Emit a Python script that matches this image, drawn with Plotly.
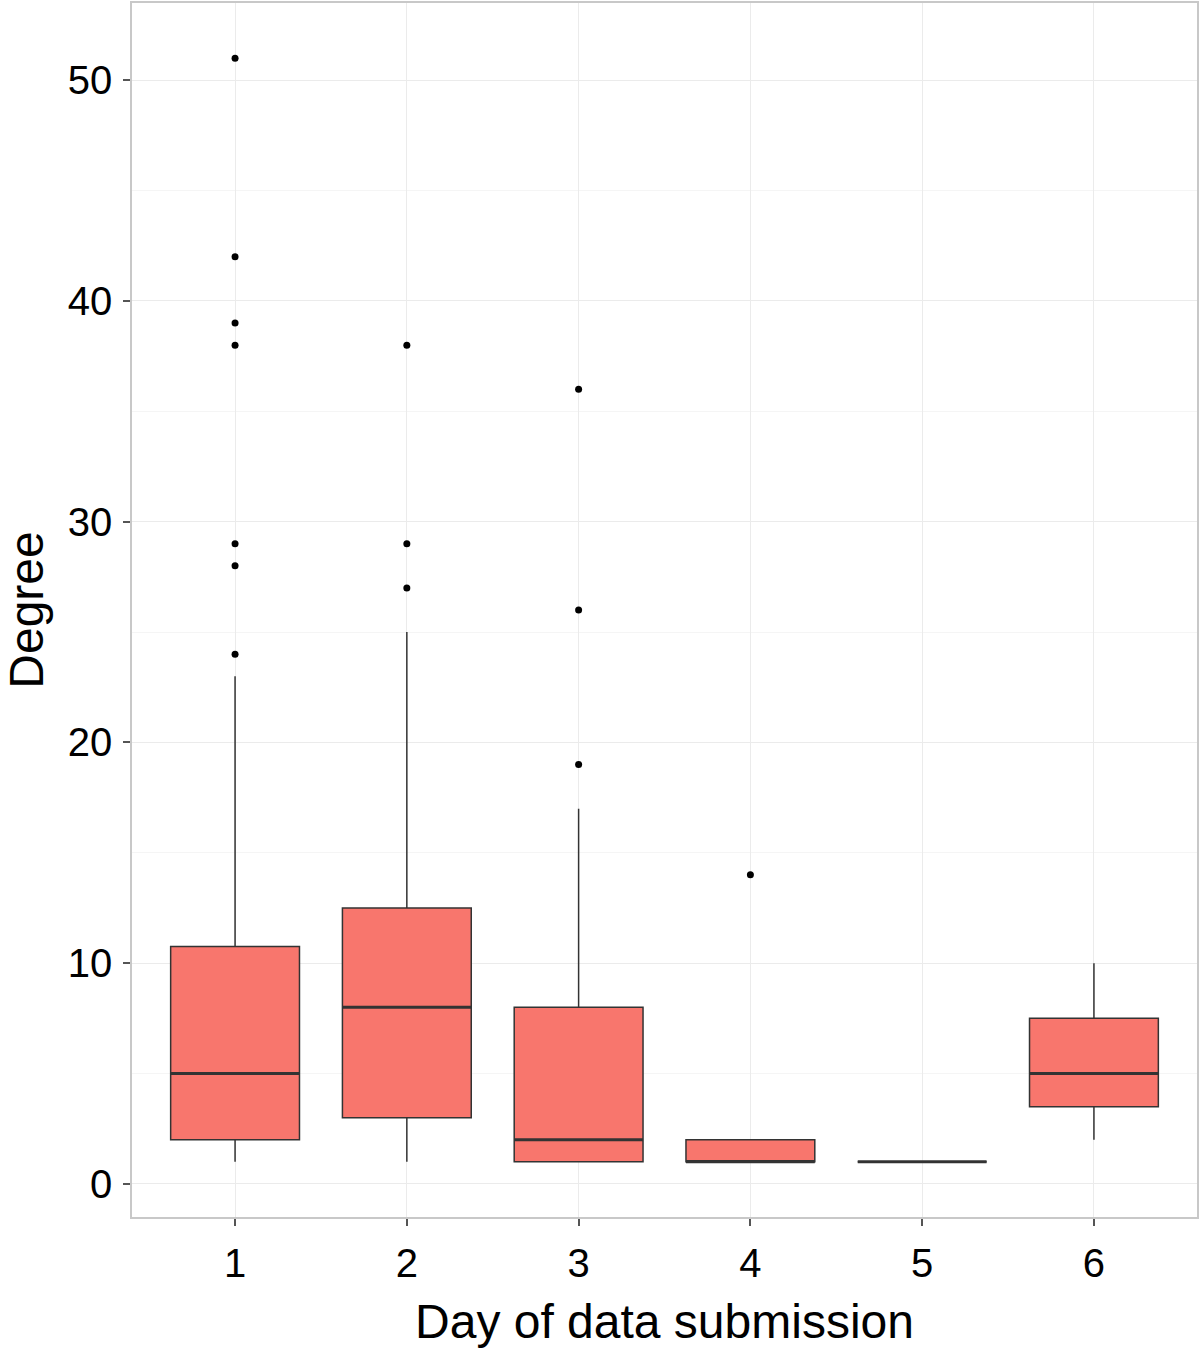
import plotly.graph_objects as go

days = [1, 2, 3, 4, 5, 6]
q1 = [2, 3, 1, 1, 1, 3.5]
median = [5, 8, 2, 1, 1, 5]
q3 = [10.75, 12.5, 8, 2, 1, 7.5]
lower = [1, 1, 1, 1, 1, 2]
upper = [23, 25, 17, 2, 1, 10]

outlier_day = [1, 1, 1, 1, 1, 1, 1, 2, 2, 2, 3, 3, 3, 4]
outlier_val = [24, 28, 29, 38, 39, 42, 51, 27, 29, 38, 19, 26, 36, 14]

BOX_W = 0.75
FILL = "#F8766D"
LINE = "#333333"
FONT = "Liberation Sans, Arial, Helvetica, sans-serif"

fig = go.Figure()
fig.add_trace(go.Box(
    x=days, q1=q1, median=median, q3=q3,
    lowerfence=lower, upperfence=upper,
    width=BOX_W, whiskerwidth=0,
    fillcolor=FILL, line=dict(color=LINE, width=1.5),
    boxpoints=False, showlegend=False, hoverinfo="skip",
))
# thicker median segments (ggplot fatten)
for d, m in zip(days, median):
    fig.add_trace(go.Scatter(
        x=[d - BOX_W / 2, d + BOX_W / 2], y=[m, m], mode="lines",
        line=dict(color=LINE, width=3), showlegend=False, hoverinfo="skip",
    ))
fig.add_trace(go.Scatter(
    x=outlier_day, y=outlier_val, mode="markers",
    marker=dict(color="black", size=7), showlegend=False,
))

fig.update_layout(
    width=1200, height=1348,
    margin=dict(l=132, r=1, t=1, b=131),
    paper_bgcolor="white", plot_bgcolor="white",
    font=dict(family=FONT, color="black"),
)
fig.update_xaxes(
    range=[0.4, 6.6], tickmode="array", tickvals=days, ticktext=[str(d) for d in days],
    showgrid=True, gridcolor="#EBEBEB", gridwidth=1, zeroline=False,
    showline=True, mirror=True, linecolor="#C8C8C8", linewidth=1.5,
    ticks="outside", ticklen=7, tickwidth=2, tickcolor="#555555",
    tickfont=dict(size=40, family=FONT, color="black"), ticklabelstandoff=3,
    title=dict(text="Day of data submission", font=dict(size=48, family=FONT, color="black"), standoff=21),
)
fig.update_yaxes(
    range=[-1.5, 53.5], tickmode="array", tickvals=[0, 10, 20, 30, 40, 50],
    showgrid=True, gridcolor="#EBEBEB", gridwidth=1, zeroline=False,
    minor=dict(tickvals=[5, 15, 25, 35, 45], showgrid=True, gridcolor="#F5F5F5", gridwidth=1),
    showline=True, mirror=True, linecolor="#C8C8C8", linewidth=1.5,
    ticks="outside", ticklen=7, tickwidth=2, tickcolor="#555555",
    tickfont=dict(size=40, family=FONT, color="black"), ticklabelstandoff=3,
    title=dict(text="Degree", font=dict(size=48, family=FONT, color="black"), standoff=17),
)

fig.write_html("out.html", config={"displayModeBar": False},
               post_script="document.body.style.margin='0';")
